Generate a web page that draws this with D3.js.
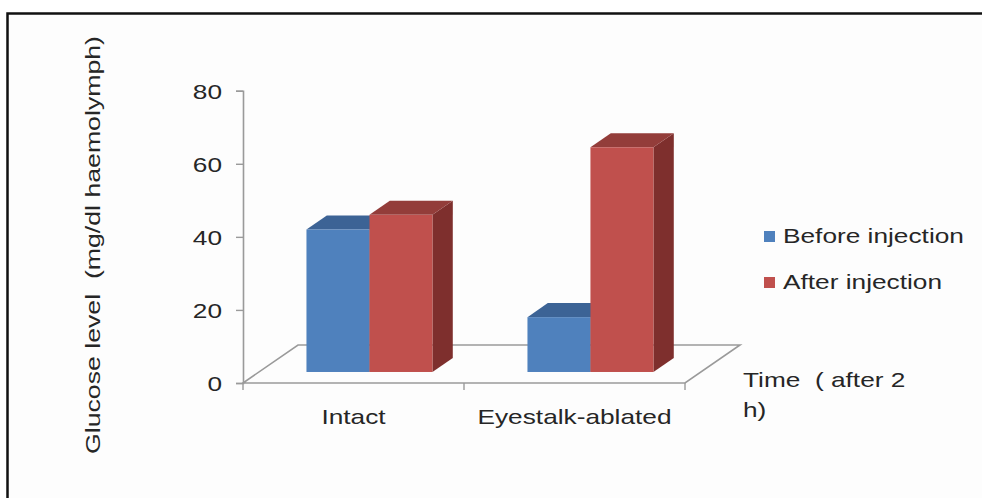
<!DOCTYPE html>
<html>
<head>
<meta charset="utf-8">
<script src="https://cdn.jsdelivr.net/npm/d3@7"></script>
<style>
  html, body { margin: 0; padding: 0; background: #ffffff; overflow: hidden; }
  svg { display: block; }
  text { font-family: "Liberation Sans", Arial, sans-serif; fill: #262626; }
</style>
</head>
<body>
<svg id="chart" width="982" height="498"></svg>
<script>
// Glucose level before / after injection, by group
const categories = ["Intact", "Eyestalk-ablated"];
const seriesNames = ["Before injection", "After injection"];
const beforeValues = [39, 15];
const afterValues = [43, 61.5];
const yTicks = [0, 20, 40, 60, 80];
const xTitleLines = ["Time  ( after 2", "h)"];
const yTitle = "Glucose level  (mg/dl haemolymph)";

const seriesValues = [beforeValues, afterValues];
const palette = [
  { front: "#4F81BD", top: "#3C6395", side: "#345782" },
  { front: "#C0504D", top: "#933D3A", side: "#7E2F2D" }
];

const svg = d3.select("#chart");
const W = 982, H = 498;

// Frame: only the top and left edges fall inside the page
svg.append("rect").attr("x", 7.5).attr("y", 13.5).attr("width", W + 40).attr("height", H + 40)
  .attr("fill", "#fdfdfd").attr("stroke", "#111").attr("stroke-width", 2.5);

// Oblique 3-D projection: floor depth vector
const depth = { dx: 55, dy: -38 };
const x0 = 243, x1 = 685;

const y = d3.scaleLinear().domain([0, 80]).range([383, 90.7]);
const x = d3.scaleBand().domain(categories).range([x0, x1]);
const groupW = x.bandwidth() * 0.57;
const xs = d3.scaleBand().domain(seriesNames).range([0, groupW]);

const frontFrac = 0.29;   // bar front plane position within floor depth
const barFrac = 0.37;     // bar depth as share of floor depth
const fdx = depth.dx * frontFrac, fdy = depth.dy * frontFrac;
const bdx = depth.dx * barFrac, bdy = depth.dy * barFrac;

const grey = "#9a9a9a";
const base = y(0);

// Floor
const floorPts = [[x0, base], [x1, base], [x1 + depth.dx, base + depth.dy], [x0 + depth.dx, base + depth.dy]];
svg.append("polygon").attr("points", floorPts.map(p => p.join(",")).join(" "))
  .attr("fill", "none").attr("stroke", grey).attr("stroke-width", 1.6);

// Y axis
const yAxis = svg.append("g").attr("transform", `translate(${x0},0)`)
  .call(d3.axisLeft(y).tickValues(yTicks).tickSize(7).tickPadding(14).tickFormat(d3.format("d")));
yAxis.select(".domain").attr("stroke", grey).attr("stroke-width", 1.6);
yAxis.selectAll(".tick line").attr("stroke", grey).attr("stroke-width", 1.4);
yAxis.selectAll(".tick text").each(function () {
  const t = d3.select(this);
  t.attr("font-size", 21).attr("font-family", null).attr("fill", null)
   .attr("dy", "0.36em").attr("x", null)
   .attr("transform", "translate(-21,0) scale(1.25,1)");
});

// X axis ticks at band boundaries
const xBounds = categories.map(c => x(c)).concat([x1]);
svg.append("g").selectAll("line").data(xBounds).join("line")
  .attr("x1", d => d).attr("x2", d => d).attr("y1", base).attr("y2", base + 7)
  .attr("stroke", grey).attr("stroke-width", 1.4);

// Bars
const bars = svg.append("g");
categories.forEach((cat, ci) => {
  const gx = x(cat) + (x.bandwidth() - groupW) / 2 + fdx;
  seriesNames.forEach((s, si) => {
    const v = seriesValues[si][ci];
    const c = palette[si];
    const left = gx + xs(s), right = left + xs.bandwidth();
    const bottom = base + fdy, top = y(v) + fdy;
    const poly = pts => pts.map(p => p.join(",")).join(" ");
    bars.append("polygon").attr("fill", c.side)
      .attr("points", poly([[right, bottom], [right, top], [right + bdx, top + bdy], [right + bdx, bottom + bdy]]));
    bars.append("polygon").attr("fill", c.top)
      .attr("points", poly([[left, top], [right, top], [right + bdx, top + bdy], [left + bdx, top + bdy]]));
    bars.append("rect").attr("fill", c.front)
      .attr("x", left).attr("y", top).attr("width", right - left).attr("height", bottom - top);
  });
});

// Category labels
svg.append("g").selectAll("text").data(categories).join("text")
  .attr("transform", d => `translate(${x(d) + x.bandwidth() / 2},424) scale(1.25,1)`)
  .attr("text-anchor", "middle").attr("font-size", 21).text(d => d);

// Y title
svg.append("text")
  .attr("transform", "translate(100,245) rotate(-90) scale(1.27,1)")
  .attr("text-anchor", "middle").attr("font-size", 21)
  .style("white-space", "pre").text(yTitle);

// X title
svg.append("g").selectAll("text").data(xTitleLines).join("text")
  .attr("transform", (d, i) => `translate(743,${387 + i * 30}) scale(1.25,1)`)
  .attr("font-size", 21).style("white-space", "pre").text(d => d);

// Legend
const legend = svg.append("g").selectAll("g").data(seriesNames).join("g")
  .attr("transform", (d, i) => `translate(764,${231 + i * 46})`);
legend.append("rect").attr("width", 11).attr("height", 11)
  .attr("fill", (d, i) => palette[i].front);
legend.append("text").attr("transform", "translate(19,12) scale(1.25,1)")
  .attr("font-size", 21).text(d => d);
</script>
</body>
</html>
